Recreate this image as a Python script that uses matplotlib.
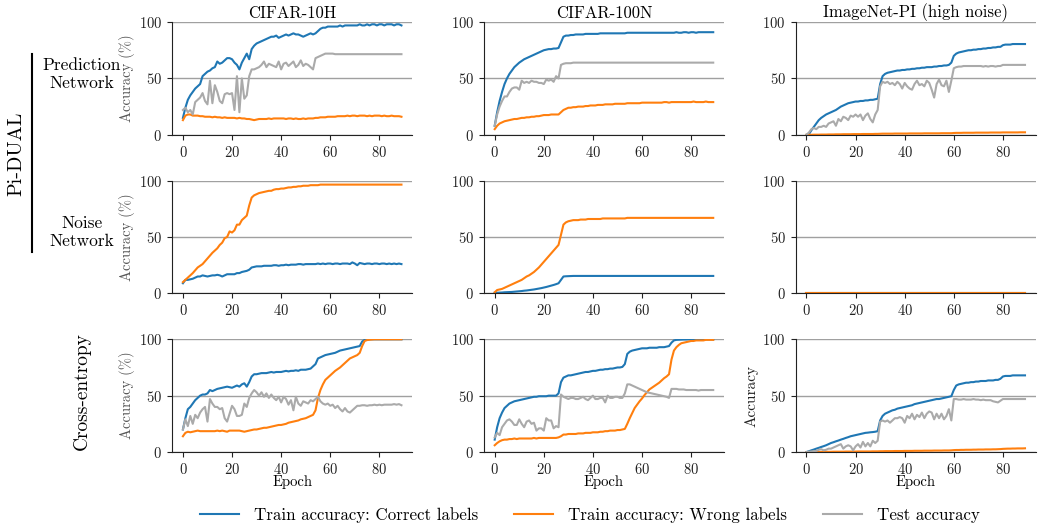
import matplotlib.pyplot as plt
from matplotlib.lines import Line2D

plt.rcParams['font.family'] = ['cmr10', 'DejaVu Serif']
plt.rcParams['mathtext.fontset'] = 'cm'
plt.rcParams['axes.formatter.use_mathtext'] = True
plt.rcParams['axes.unicode_minus'] = False

blue = '#1f77b4'
orange = '#ff7f0e'
gray = '#aaaaaa'

epochs = list(range(90))
datasets = ['CIFAR-10H', 'CIFAR-100N', 'ImageNet-PI (high noise)']
legend_labels = ['Train accuracy: Correct labels', 'Train accuracy: Wrong labels', 'Test accuracy']

# ---- Pi-DUAL, prediction network
c10h_pred_correct = [15, 24, 31, 35, 38, 41, 43, 45, 52, 54,
                     56, 57, 59, 60, 65, 63, 64, 66, 68, 68,
                     67, 64, 62, 58, 64, 68, 72, 67, 76, 79,
                     81, 82, 83, 84, 85, 86, 87, 87, 88, 86,
                     87, 88, 89, 88, 89, 90, 89, 89, 88, 87,
                     88, 89, 90, 89, 90, 92, 94, 95, 95, 96,
                     96, 96, 96, 96, 97, 96, 97, 97, 97, 97,
                     97, 97, 98, 97, 97, 98, 97, 98, 98, 97,
                     98, 98, 97, 98, 98, 98, 97, 98, 98, 97]
c10h_pred_wrong = [13, 17, 18, 18, 17, 17, 17, 16.5, 16.5, 16,
                   16, 16, 15.5, 16, 15.5, 15.5, 15, 15.5, 15, 15,
                   15, 15, 14.5, 15, 14.5, 14.5, 14, 14, 13.5, 13,
                   13.5, 14, 14, 14, 14, 14.5, 14, 14.5, 14.5, 14.5,
                   14.5, 14.5, 14, 14.5, 14.5, 14, 14.5, 14, 14, 14.5,
                   14, 14.5, 14.5, 14.5, 15, 15, 15.5, 15.5, 15.5, 16,
                   16, 16, 16, 16.5, 16.5, 16.5, 16.5, 17, 16.5, 17,
                   17, 16.5, 17, 17, 17, 16.5, 17, 16.5, 17, 17,
                   17, 16.5, 17, 16.5, 16.5, 17, 16.5, 16.5, 16.5, 16]
c10h_pred_test = [22, 24, 20, 22, 18, 29, 31, 33, 37, 30,
                  27, 48, 28, 44, 38, 30, 28, 36, 37, 36,
                  37, 22, 52, 20, 50, 32, 35, 52, 58, 58,
                  59, 60, 62, 65, 60, 63, 62, 61, 60, 65,
                  58, 63, 64, 61, 63, 65, 60, 62, 66, 61,
                  63, 62, 60, 58, 68, 69, 70, 71, 72, 72,
                  72, 72, 71.5, 71.5, 71.5, 71.5, 71.5, 71.5, 71.5, 71.5,
                  71.5, 71.5, 71.5, 71.5, 71.5, 71.5, 71.5, 71.5, 71.5, 71.5,
                  71.5, 71.5, 71.5, 71.5, 71.5, 71.5, 71.5, 71.5, 71.5, 71.5]

c100n_pred_correct = [8, 20, 30, 38, 45, 50, 54, 57, 60, 62,
                      64, 65.5, 67, 68, 69, 70, 71, 72, 73, 74,
                      75, 75.5, 76, 76, 76.5, 76.5, 77, 82, 87, 88,
                      88, 88.5, 88.5, 89, 89, 89, 89, 89.5, 89.5, 89.5,
                      89.5, 89.5, 89.5, 90, 90, 90, 90, 90, 90, 90,
                      90, 90, 90, 90, 90.5, 90.5, 90.5, 90.5, 90.5, 90.5,
                      90.5, 90.5, 90.5, 90.5, 90.5, 90.5, 90.5, 90.5, 90.5, 90.5,
                      90.5, 90.5, 90.5, 90.5, 91, 90.5, 90.5, 91, 91, 90.5,
                      91, 91, 90.5, 91, 91, 91, 91, 91, 91, 91]
c100n_pred_wrong = [5, 8, 10, 11, 12, 12.5, 13, 13.5, 14, 14,
                    14.5, 15, 15, 15.5, 15.5, 16, 16, 16.5, 16.5, 17,
                    17.5, 17.5, 17.5, 18, 18, 18, 18, 20, 22, 23,
                    24, 24, 24.5, 24.5, 25, 25, 25, 25.5, 25.5, 26,
                    26, 26, 26.5, 26.5, 26.5, 27, 27, 27, 27, 27.5,
                    27.5, 27.5, 27.5, 27.5, 28, 28, 28, 28, 28, 28,
                    28.5, 28.5, 28.5, 28.5, 28.5, 28.5, 28.5, 28.5, 28.5, 29,
                    29, 28.5, 29, 29, 29, 29, 29, 29, 29, 29,
                    29, 29.5, 29, 29, 29, 29, 29.5, 29, 29, 29]
c100n_pred_test = [8, 18, 25, 30, 34, 34, 38, 41, 42, 42,
                   40, 48, 46, 47, 46, 48, 47, 47, 46, 46,
                   45, 49, 48, 49, 47, 52, 50, 62, 63, 63.5,
                   63.5, 63.5, 64, 64, 64, 64, 64, 64, 64, 64,
                   64, 64, 64, 64, 64, 64, 64, 64, 64, 64,
                   64, 64, 64, 64, 64, 64, 64, 64, 64, 64,
                   64, 64, 64, 64, 64, 64, 64, 64, 64, 64,
                   64, 64, 64, 64, 64, 64, 64, 64, 64, 64,
                   64, 64, 64, 64, 64, 64, 64, 64, 64, 64]

imnet_pred_correct = [0, 0.5, 4, 7, 10, 13, 15, 16.5, 18, 19,
                      20, 21, 22, 23.5, 25, 26, 27, 28, 28.5, 29,
                      29.5, 29.5, 30, 30, 30.5, 30.5, 31, 31, 31.5, 32,
                      45, 52, 54, 55, 55.5, 56, 56.5, 57, 57, 57.5,
                      57.5, 58, 58, 58.5, 58.5, 59, 59, 59.5, 59.5, 60,
                      60, 60, 60.5, 60.5, 61, 61, 61.5, 61.5, 62, 64,
                      70, 72, 73, 73.5, 74, 74.5, 75, 75, 75.5, 75.5,
                      76, 76, 76.5, 76.5, 77, 77, 77.5, 77.5, 78, 78,
                      79.5, 80, 80, 80, 80.5, 80.5, 80.5, 80.5, 80.5, 80.5]
imnet_pred_wrong = [0, 0, 0, 0.1, 0.1, 0.1, 0.2, 0.2, 0.2, 0.3,
                    0.3, 0.3, 0.4, 0.4, 0.4, 0.5, 0.5, 0.5, 0.5, 0.6,
                    0.6, 0.6, 0.6, 0.7, 0.7, 0.7, 0.7, 0.7, 0.8, 0.8,
                    0.9, 1.0, 1.0, 1.0, 1.0, 1.0, 1.1, 1.1, 1.1, 1.1,
                    1.1, 1.1, 1.2, 1.2, 1.2, 1.2, 1.2, 1.2, 1.3, 1.3,
                    1.3, 1.3, 1.3, 1.3, 1.3, 1.4, 1.4, 1.4, 1.4, 1.4,
                    1.6, 1.7, 1.7, 1.7, 1.8, 1.8, 1.8, 1.8, 1.8, 1.9,
                    1.9, 1.9, 1.9, 1.9, 1.9, 2.0, 2.0, 2.0, 2.0, 2.0,
                    2.1, 2.1, 2.1, 2.1, 2.1, 2.1, 2.1, 2.2, 2.2, 2.2]
imnet_pred_test = [0, 2, 5, 6, 5, 7, 7, 8, 7, 10,
                   11, 12, 8, 14, 12, 16, 15, 13, 17, 16,
                   18, 16, 18, 13, 17, 19, 14, 11, 18, 22,
                   43, 47, 46, 47, 45, 46, 44, 47, 45, 41,
                   46, 43, 41, 40, 45, 48, 44, 45, 43, 48,
                   46, 40, 33, 45, 49, 44, 43, 48, 38, 48,
                   59, 60, 60.5, 60.5, 61, 61, 61, 61, 61, 61,
                   61, 61, 60.5, 61, 60.5, 61, 61, 60.5, 61, 61,
                   62, 62, 62, 62, 62, 62, 62, 62, 62, 62]

# ---- Pi-DUAL, noise network
c10h_noise_correct = [9, 12, 12, 12.5, 13, 14, 15, 15, 16, 15.5,
                      15, 15.5, 16, 16, 16.5, 16, 15, 16, 17, 17,
                      17, 17, 18, 18, 19, 19.5, 20, 21, 23, 23.5,
                      24, 24, 24, 24.5, 24.5, 24.5, 24.5, 25, 25, 24.5,
                      25, 25, 25.5, 25, 25.5, 25.5, 25.5, 26, 26, 25.5,
                      26, 26, 26, 26, 26, 26.5, 26, 26.5, 26, 26.5,
                      26.5, 26, 26.5, 26.5, 26, 26.5, 26.5, 26.5, 26, 27.5,
                      26.5, 25, 27, 26.5, 26, 26.5, 26.5, 26, 26.5, 26.5,
                      26, 26.5, 26.5, 26, 26.5, 26, 26.5, 26, 26.5, 26]
c10h_noise_wrong = [10, 12, 14, 16, 18, 20.5, 23, 24.5, 26, 28.5,
                    31, 33.5, 36, 38, 40, 43, 45, 49, 50, 55,
                    54, 56, 61, 61, 65, 67, 69, 78, 85, 87,
                    88, 89, 89.5, 90, 90.5, 91, 91, 92, 92.5, 92.5,
                    93, 93, 93.5, 94, 94, 94.5, 94.5, 95, 95, 95.5,
                    95.5, 95.5, 96, 96, 96, 96, 96.5, 96.5, 96.5, 96.5,
                    96.5, 96.5, 96.5, 96.5, 96.5, 96.5, 96.5, 96.5, 96.5, 96.5,
                    96.5, 96.5, 96.5, 96.5, 96.5, 96.5, 96.5, 96.5, 96.5, 96.5,
                    96.5, 96.5, 96.5, 96.5, 96.5, 96.5, 96.5, 96.5, 96.5, 96.5]

c100n_noise_correct = [0.5, 0.6, 0.7, 0.8, 1, 1.1, 1.2, 1.3, 1.5, 1.7,
                       1.9, 2.1, 2.4, 2.6, 2.9, 3.2, 3.5, 3.9, 4.3, 4.7,
                       5.2, 5.7, 6.3, 6.9, 7.5, 8.2, 9, 12, 15, 15.2,
                       15.3, 15.4, 15.5, 15.5, 15.5, 15.5, 15.5, 15.5, 15.5, 15.5,
                       15.5, 15.5, 15.5, 15.5, 15.5, 15.5, 15.5, 15.5, 15.5, 15.5,
                       15.5, 15.5, 15.5, 15.5, 15.5, 15.5, 15.5, 15.5, 15.5, 15.5,
                       15.5, 15.5, 15.5, 15.5, 15.5, 15.5, 15.5, 15.5, 15.5, 15.5,
                       15.5, 15.5, 15.5, 15.5, 15.5, 15.5, 15.5, 15.5, 15.5, 15.5,
                       15.5, 15.5, 15.5, 15.5, 15.5, 15.5, 15.5, 15.5, 15.5, 15.5]
c100n_noise_wrong = [1, 3, 3.5, 4, 5, 6, 7, 8, 9, 10,
                     11, 12, 13.5, 15, 16, 17.5, 19, 21, 23, 25.5,
                     28, 30.5, 33, 35.5, 38, 40.5, 43, 52, 61, 63,
                     64, 64.5, 65, 65, 65, 65.5, 65.5, 65.5, 66, 66,
                     66, 66, 66, 66, 66.5, 66.5, 66.5, 66.5, 66.5, 66.5,
                     66.5, 66.5, 66.5, 66.5, 67, 67, 67, 67, 67, 67,
                     67, 67, 67, 67, 67, 67, 67, 67, 67, 67,
                     67, 67, 67, 67, 67, 67, 67, 67, 67, 67,
                     67, 67, 67, 67, 67, 67, 67, 67, 67, 67]

imnet_noise_correct = [0, 0, 0, 0, 0, 0, 0, 0, 0, 0,
                       0, 0, 0, 0, 0, 0, 0, 0, 0, 0,
                       0, 0, 0, 0, 0, 0, 0, 0, 0, 0,
                       0, 0, 0, 0, 0, 0, 0, 0, 0, 0,
                       0, 0, 0, 0, 0, 0, 0, 0, 0, 0,
                       0, 0, 0, 0, 0, 0, 0, 0, 0, 0,
                       0, 0, 0, 0, 0, 0, 0, 0, 0, 0,
                       0, 0, 0, 0, 0, 0, 0, 0, 0, 0,
                       0, 0, 0, 0, 0, 0, 0, 0, 0, 0]
imnet_noise_wrong = [0, 0, 0, 0, 0, 0, 0, 0, 0, 0,
                     0, 0, 0, 0, 0, 0, 0, 0, 0, 0,
                     0, 0, 0, 0, 0, 0, 0, 0, 0, 0,
                     0, 0, 0, 0, 0, 0, 0, 0, 0, 0,
                     0, 0, 0, 0, 0, 0, 0, 0, 0, 0,
                     0, 0, 0, 0, 0, 0, 0, 0, 0, 0,
                     0, 0, 0, 0, 0, 0, 0, 0, 0, 0,
                     0, 0, 0, 0, 0, 0, 0, 0, 0, 0,
                     0, 0, 0, 0, 0, 0, 0, 0, 0, 0]

# ---- Cross-entropy baseline
c10h_ce_correct = [20, 30, 38, 40, 43, 46, 48, 50, 51, 51,
                   52, 55, 54, 55, 56, 56.5, 57, 57.5, 58, 57.5,
                   57, 58, 59, 58, 60, 61, 58, 62, 67, 69,
                   69, 69.5, 70, 70, 70, 70.5, 71, 70.5, 71, 71,
                   71, 71.5, 72, 71.5, 72, 72, 72.5, 72, 73, 73,
                   73, 73.5, 74, 76, 78, 83, 84, 85, 86, 86.5,
                   87, 87.5, 88, 89, 90, 90.5, 91, 91.5, 92, 92.5,
                   93, 93.5, 94, 98, 99.5, 99.8, 100, 100, 100, 100,
                   100, 100, 100, 100, 100, 100, 100, 100, 100, 100]
c10h_ce_wrong = [14, 17, 18, 17.5, 18, 18.5, 19, 18.5, 18.5, 18.5,
                 18.5, 18.5, 18.5, 18.5, 19, 18.5, 19, 18.5, 18, 19,
                 19, 19, 19, 19, 18.5, 18, 18.5, 19, 19.5, 20,
                 20, 20.5, 21, 21.5, 21.5, 22, 22.5, 23, 23.5, 24,
                 24, 24.5, 25, 26, 26.5, 27, 27.5, 28, 29, 29.5,
                 30, 31, 32, 33, 37, 48, 55, 60, 64, 66,
                 68, 70, 72, 73.5, 75, 77, 79, 81, 83, 84,
                 85, 86, 88, 94, 98.5, 99.3, 99.6, 99.8, 100, 100,
                 100, 100, 100, 100, 100, 100, 100, 100, 100, 100]
c10h_ce_test = [20, 29, 23, 32, 25, 33, 30, 35, 38, 40,
                27, 47, 43, 40, 40, 38, 39, 30, 27, 34,
                41, 38, 32, 32, 33, 43, 40, 48, 52, 55,
                53, 50, 53, 49, 52, 48, 51, 48, 46, 49,
                44, 49, 47, 42, 46, 37, 49, 43, 41, 45,
                44, 43, 46, 45, 47, 49, 45, 43, 42, 43,
                41, 42, 39, 41, 38, 36, 39, 36, 35, 37,
                39, 41, 41, 41.5, 41.5, 41, 41.5, 41.5, 42, 41.5,
                42, 41.5, 42, 42, 42, 42, 42.5, 42, 42.5, 41.5]

c100n_ce_correct = [11, 22, 30, 35, 39, 41, 43, 44, 45, 45.5,
                    46, 46.5, 47, 47.5, 48, 48.5, 49, 49, 49.5, 49.5,
                    49.5, 49.5, 50, 50, 50, 50, 52, 62, 66, 67,
                    68, 68, 68.5, 69, 69.5, 70, 70.5, 71, 71, 71.5,
                    72, 72, 72.5, 73, 73, 73.5, 73.5, 74, 74, 74.5,
                    75, 75, 75.5, 78, 87, 89, 90, 90.5, 91, 91.5,
                    92, 92, 92, 92.5, 92.5, 92.5, 92.5, 93, 93, 93,
                    93.5, 94, 97, 99, 99.5, 99.6, 99.7, 99.8, 99.8, 99.9,
                    99.9, 99.9, 100, 100, 100, 100, 100, 100, 100, 100]
c100n_ce_wrong = [6, 8, 9.5, 10.5, 11, 11, 11.5, 11.5, 12, 11.5,
                  12, 12, 12, 12, 12, 12, 12.5, 12, 12.5, 12.5,
                  12.5, 12.5, 12.5, 12.5, 12.5, 12.5, 13, 14, 15.5, 15.5,
                  16, 16, 16, 16, 16.5, 16.5, 16.5, 17, 17, 17,
                  17.5, 17.5, 17.5, 18, 18, 18.5, 18.5, 19, 19, 19,
                  19.5, 19.5, 20, 20.5, 25, 30, 34.5, 39, 42, 45,
                  47.5, 50.5, 53, 55.5, 57, 58.5, 60, 61.5, 63.5, 65.5,
                  67, 69, 82, 90, 93, 95, 96.5, 97, 97.5, 98,
                  98.5, 98.5, 99, 99, 99, 99, 99.5, 99.5, 99.5, 99.5]
c100n_ce_test = [13, 17, 15, 22, 25, 28, 29, 27, 24, 24,
                 29, 25, 22, 27, 28, 25, 26, 19, 21, 21,
                 19, 30, 28, 28, 21, 23, 22, 51, 49, 48,
                 47, 48, 48, 47, 47, 48, 49, 47, 46, 48,
                 50, 47, 47, 48, 48, 44, 50, 48, 48, 49,
                 49, 48, 48, 52, 60, 60, 59, 58, 57, 56,
                 55, 54, 53, 52.5, 52, 51.5, 51, 50.5, 50, 49.5,
                 49, 48, 56, 56, 56, 55.5, 55.5, 55.5, 55, 55,
                 55, 55, 55, 54.5, 55, 55, 55, 55, 55, 55]

imnet_ce_correct = [0, 0.7, 1.5, 2.2, 3, 3.7, 4.5, 5.2, 6, 7,
                    8, 8.7, 9.5, 10.2, 11, 11.7, 12.5, 13.2, 14, 14.5,
                    15, 15.5, 16, 16.5, 17, 17.2, 17.5, 17.7, 18, 18.5,
                    28, 32, 34, 35, 36, 37, 37.5, 38.5, 39, 39.5,
                    40, 40.5, 41, 41.5, 42.5, 43, 43.5, 44, 44.5, 45,
                    45.5, 46, 46.5, 47, 47, 47.5, 48, 48.5, 49, 49.5,
                    55, 59, 60, 60.5, 61, 61.5, 61.5, 62, 62, 62.5,
                    62.5, 63, 63, 63, 63.5, 63.5, 63.5, 64, 64, 65,
                    67, 67.5, 67.5, 67.5, 68, 68, 68, 68, 68, 68]
imnet_ce_wrong = [0, 0, 0, 0.1, 0.1, 0.1, 0.1, 0.2, 0.2, 0.2,
                  0.2, 0.3, 0.3, 0.3, 0.3, 0.3, 0.4, 0.4, 0.4, 0.4,
                  0.4, 0.5, 0.5, 0.5, 0.5, 0.5, 0.5, 0.6, 0.6, 0.6,
                  0.7, 0.7, 0.8, 0.8, 0.8, 0.8, 0.9, 0.9, 0.9, 0.9,
                  1.0, 1.0, 1.0, 1.0, 1.1, 1.1, 1.1, 1.1, 1.2, 1.2,
                  1.2, 1.2, 1.3, 1.3, 1.3, 1.3, 1.4, 1.4, 1.4, 1.5,
                  1.7, 1.8, 1.8, 1.9, 1.9, 2.0, 2.0, 2.0, 2.1, 2.1,
                  2.2, 2.2, 2.2, 2.3, 2.3, 2.3, 2.4, 2.4, 2.5, 2.6,
                  2.8, 2.9, 3.0, 3.0, 3.1, 3.1, 3.2, 3.2, 3.2, 3.3]
imnet_ce_test = [0, 0.3, 0.5, 0.8, 1, 2, 2.5, 1.5, 2, 3,
                 3, 4, 5, 6, 7, 3, 5, 6, 5, 1.5,
                 5, 7, 4, 9, 5, 8, 5, 10, 8, 10,
                 27, 28, 27, 28, 26, 28, 30, 30, 31, 30,
                 26, 32, 30, 34, 29, 33, 31, 35, 30, 34,
                 36, 35, 29, 34, 30, 34, 29, 32, 38, 28,
                 47, 47, 46.5, 46.5, 47, 46.5, 46.5, 46.5, 47, 46.5,
                 46.5, 46, 46.5, 46, 46, 46, 45, 44.5, 44, 45.5,
                 47, 47, 47, 47, 47, 47, 47, 47, 47, 47]

panels = [
  [(c10h_pred_correct, c10h_pred_wrong, c10h_pred_test),
   (c100n_pred_correct, c100n_pred_wrong, c100n_pred_test),
   (imnet_pred_correct, imnet_pred_wrong, imnet_pred_test)],
  [(c10h_noise_correct, c10h_noise_wrong, None),
   (c100n_noise_correct, c100n_noise_wrong, None),
   (imnet_noise_correct, imnet_noise_wrong, None)],
  [(c10h_ce_correct, c10h_ce_wrong, c10h_ce_test),
   (c100n_ce_correct, c100n_ce_wrong, c100n_ce_test),
   (imnet_ce_correct, imnet_ce_wrong, imnet_ce_test)],
]

fig, axes = plt.subplots(3, 3, figsize=(10.38, 5.25), dpi=100)
fig.subplots_adjust(left=0.1657, right=0.998, top=0.958, bottom=0.139,
                    wspace=0.297, hspace=0.407)

for i in range(3):
  for j in range(3):
    ax = axes[i][j]
    correct, wrong, test = panels[i][j]
    ax.plot(epochs, correct, color=blue, lw=1.5)
    ax.plot(epochs, wrong, color=orange, lw=1.5)
    if test is not None:
      ax.plot(epochs, test, color=gray, lw=1.5)
    ax.set_ylim(0, 100)
    ax.set_xticks([0, 20, 40, 60, 80])
    ax.set_yticks([0, 50, 100])
    ax.grid(axis='y', color='#a0a0a0', lw=1)
    ax.set_axisbelow(True)
    ax.spines[['top', 'right']].set_visible(False)
    ax.spines[['left', 'bottom']].set_color('#222222')
    ax.tick_params(labelsize=10.5, length=3.5, width=0.8, colors='#222222')
    if i == 0:
      ax.set_title(datasets[j], fontsize=12, pad=3)
    if i == 2:
      ax.set_xlabel('Epoch', fontsize=10.5, labelpad=-1)
    if j == 0:
      ax.set_ylabel('Accuracy (%)', fontsize=10.5, color='#555555', labelpad=3)

axes[2][2].set_ylabel('Accuracy', fontsize=11, color='#222222', labelpad=3)

# row labels on the left
fig.text(16 / 1038, 1 - 154 / 525, 'Pi-DUAL', rotation=90, fontsize=14.5,
         ha='center', va='center')
fig.add_artist(Line2D([32 / 1038, 32 / 1038], [1 - 54 / 525, 1 - 252 / 525],
                      transform=fig.transFigure, color='black', lw=1.5))
fig.text(82 / 1038, 1 - 74 / 525, 'Prediction\nNetwork', fontsize=12.5,
         ha='center', va='center', linespacing=1.2)
fig.text(82 / 1038, 1 - 232 / 525, 'Noise\nNetwork', fontsize=12.5,
         ha='center', va='center', linespacing=1.2)
fig.text(82 / 1038, 1 - 391 / 525, 'Cross-entropy', rotation=90, fontsize=14,
         ha='center', va='center')

handles = [Line2D([], [], color=c, lw=1.5) for c in (blue, orange, gray)]
fig.legend(handles, legend_labels, loc='center', ncol=3, frameon=False,
           bbox_to_anchor=(590 / 1038, 1 - 515 / 525), fontsize=12.2,
           handlelength=2.3, columnspacing=2.1, handletextpad=0.9)

plt.savefig('out.png', dpi=100)
plt.close()
